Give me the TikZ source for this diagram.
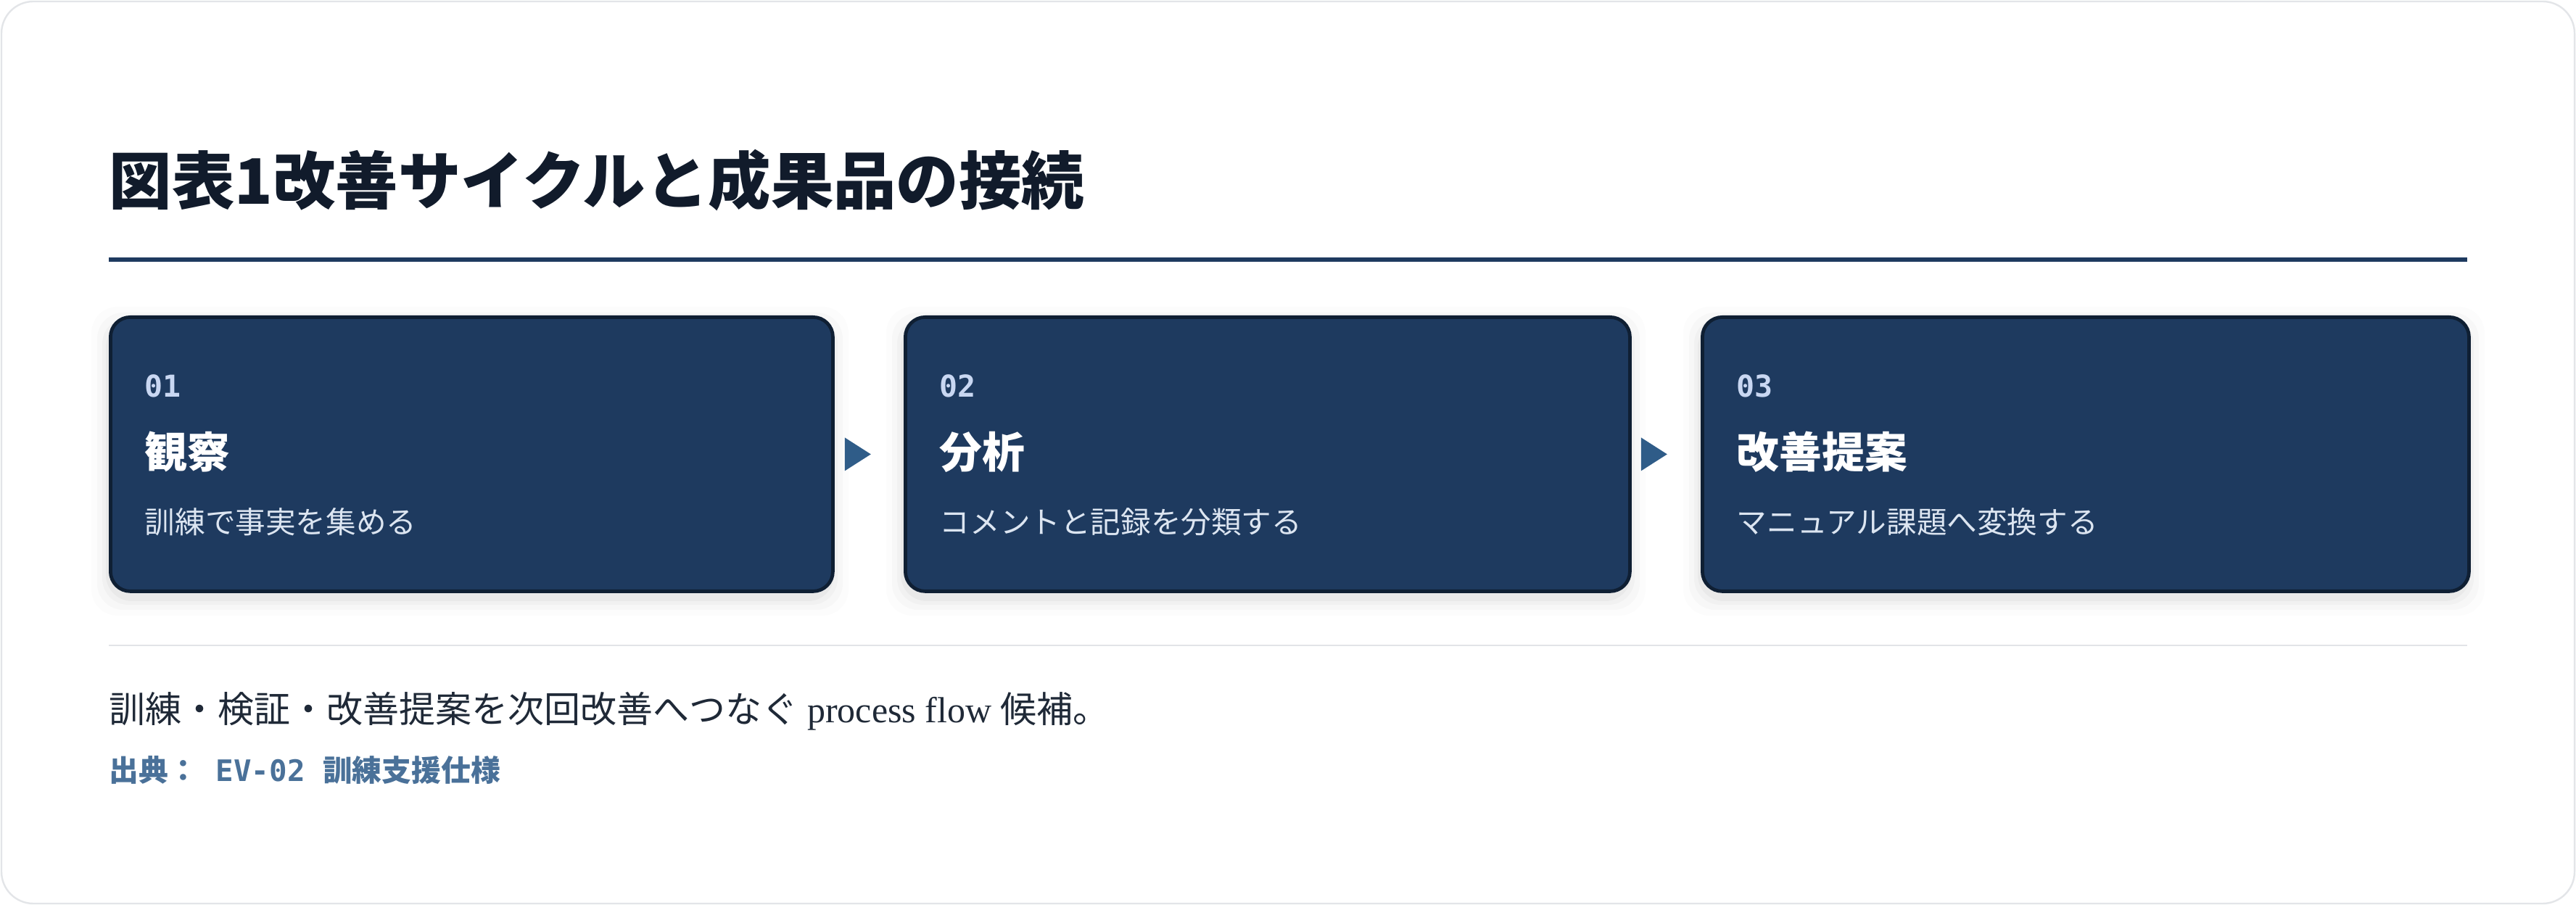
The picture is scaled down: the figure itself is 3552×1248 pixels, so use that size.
\documentclass[tikz,border=0pt]{standalone}
\usepackage{fontspec}
\setmainfont{Liberation Serif}
\newfontfamily\cjk{Noto Sans CJK JP}
\newfontfamily\monof{DejaVu Sans Mono}
\usetikzlibrary{calc}
\definecolor{navy}{HTML}{1E3A5F}
\definecolor{navyedge}{HTML}{0F1F33}
\definecolor{titlec}{HTML}{111B2B}
\definecolor{numc}{HTML}{C9D7F2}
\definecolor{subc}{HTML}{DCE5F1}
\definecolor{arrowc}{HTML}{2F5C88}
\definecolor{capc}{HTML}{1F2937}
\definecolor{srcc}{HTML}{4A7199}
\definecolor{framec}{HTML}{E3E5E8}
\definecolor{sepc}{HTML}{E2E4E7}
\tikzset{
  stepbox/.style={draw=navyedge, line width=1.2pt, fill=navy, rounded corners=6.8pt, minimum height=94.5pt, inner sep=0pt},
  numtxt/.style={anchor=west, inner sep=0pt, text=numc, font=\monof\bfseries\fontsize{10.4}{12}\selectfont},
  headtxt/.style={anchor=west, inner sep=0pt, text=white, font=\cjk\bfseries\fontsize{14.7}{17}\selectfont},
  subtxt/.style={anchor=west, inner sep=0pt, text=subc, font=\cjk\fontsize{10.4}{12}\selectfont},
  tri/.style={fill=arrowc, draw=none}
}
\begin{document}
\begin{tikzpicture}[x=0.25pt,y=-0.25pt]
\useasboundingbox (0,0) rectangle (3552,1248);
\draw[framec, line width=0.6pt, fill=white, rounded corners=11pt] (2,2) rectangle (3550,1246);
% title
\node[anchor=west, inner sep=0pt, text=titlec, font=\cjk\bfseries\fontsize{21.6}{25}\selectfont] (title) at (150,249) {図表1改善サイクルと成果品の接続};
\draw[navy, line width=1.5pt] (150,358) coordinate (r1) -- (3402,358) coordinate (r2);
% shadows
\foreach \xa/\xb in {150/1146,1246/2245,2345/3402}{
  \foreach \d/\o in {24/0.012,16/0.018,9/0.025,4/0.03}{
    \fill[black, opacity=\o, rounded corners=9pt] (\xa-\d,435-\d+12) rectangle (\xb+\d,813+\d+12);
  }
}
% boxes
\node[stepbox, minimum width=249pt, anchor=north west] (b1) at (150,435) {};
\node[stepbox, minimum width=249.75pt, anchor=north west] (b2) at (1246,435) {};
\node[stepbox, minimum width=264.25pt, anchor=north west] (b3) at (2345,435) {};
% texts
\node[numtxt] (n1) at (199,532) {01};
\node[headtxt] (h1) at (199,623) {観察};
\node[subtxt] (s1) at (199,720) {訓練で事実を集める};
\node[numtxt] (n2) at (1295,532) {02};
\node[headtxt] (h2) at (1295,623) {分析};
\node[subtxt] (s2) at (1295,720) {コメントと記録を分類する};
\node[numtxt] (n3) at (2394,532) {03};
\node[headtxt] (h3) at (2394,623) {改善提案};
\node[subtxt] (s3) at (2394,720) {マニュアル課題へ変換する};
% arrows
\fill[tri] ($(b1.east)+(14,-23)$) -- ($(b1.east)+(50,0)$) -- ($(b1.east)+(14,23)$) -- cycle;
\fill[tri] ($(b2.east)+(13,-23)$) -- ($(b2.east)+(49,0)$) -- ($(b2.east)+(13,23)$) -- cycle;
% separator
\draw[sepc, line width=0.6pt] (150,890) coordinate (s1a) -- (3402,890) coordinate (s1b);
% caption
\node[anchor=west, inner sep=0pt, text=capc, font=\fontsize{12.5}{14}\selectfont] (cap) at (150,981) {\cjk 訓練・検証・改善提案を次回改善へつなぐ\rmfamily\ process flow \cjk 候補。};
\node[anchor=west, inner sep=0pt, text=srcc, font=\fontsize{10.2}{12}\selectfont] (src) at (150,1062) {\cjk\bfseries 出典：\monof\bfseries\ EV-02 \cjk\bfseries 訓練支援仕様};
\end{tikzpicture}
\end{document}
